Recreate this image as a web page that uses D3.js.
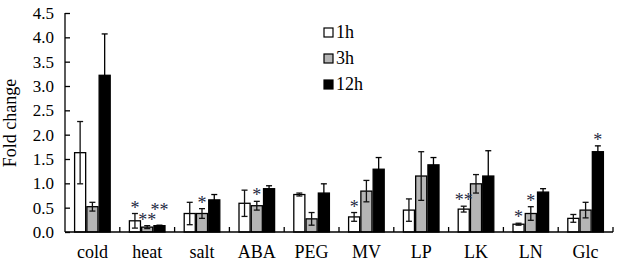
<!DOCTYPE html>
<html>
<head>
<meta charset="utf-8">
<script src="https://cdn.jsdelivr.net/npm/d3@7"></script>
<style>
  body { margin: 0; background: #fff; }
  svg { display: block; font-family: "Liberation Serif", "Times New Roman", serif; }
</style>
</head>
<body>
<svg id="chart"></svg>
<script>
// data
const categories = ['cold', 'heat', 'salt', 'ABA', 'PEG', 'MV', 'LP', 'LK', 'LN', 'Glc'];
const series = ['1h', '3h', '12h'];
const values_1h  = [1.63, 0.23, 0.38, 0.59, 0.77, 0.31, 0.45, 0.47, 0.16, 0.28];
const values_3h  = [0.52, 0.10, 0.38, 0.54, 0.27, 0.84, 1.15, 0.99, 0.38, 0.45];
const values_12h = [3.22, 0.13, 0.66, 0.89, 0.80, 1.29, 1.38, 1.15, 0.82, 1.65];
const err_1h  = [0.64, 0.15, 0.23, 0.27, 0.03, 0.09, 0.23, 0.06, 0.02, 0.08];
const err_3h  = [0.09, 0.03, 0.10, 0.09, 0.13, 0.22, 0.50, 0.19, 0.14, 0.16];
const err_12h = [0.85, 0.01, 0.11, 0.06, 0.19, 0.24, 0.15, 0.52, 0.07, 0.12];
// significance marks ('' = none)
const sig_1h  = ['', '*', '', '', '', '*', '', '**', '*', ''];
const sig_3h  = ['', '**', '*', '*', '', '', '', '', '*', ''];
const sig_12h = ['', '**', '', '', '', '', '', '', '', '*'];
const yTicks = [0, 0.5, 1, 1.5, 2, 2.5, 3, 3.5, 4, 4.5];

const W = 619, H = 263;
const margin = {top: 13, right: 6, bottom: 31, left: 65};
const innerW = W - margin.left - margin.right;
const innerH = H - margin.top - margin.bottom;

const fills = {'1h': '#ffffff', '3h': '#b5b5b5', '12h': '#000000'};
const vals = {'1h': values_1h, '3h': values_3h, '12h': values_12h};
const errs = {'1h': err_1h, '3h': err_3h, '12h': err_12h};
const sigs = {'1h': sig_1h, '3h': sig_3h, '12h': sig_12h};

const svg = d3.select('#chart').attr('width', W).attr('height', H);
const g = svg.append('g').attr('transform', `translate(${margin.left},${margin.top})`);

const x0 = d3.scaleBand().domain(categories).range([0, innerW]).padding(0);
const x1 = d3.scaleBand().domain(series).range([9, x0.bandwidth() - 9]).padding(0);
const y = d3.scaleLinear().domain([0, 4.5]).range([innerH, 0]);

// bars
const rows = categories.map((c, i) => ({
  cat: c,
  items: series.map(s => ({s, v: vals[s][i], e: errs[s][i], sig: sigs[s][i]}))
}));

const grp = g.selectAll('.grp').data(rows).join('g')
  .attr('class', 'grp')
  .attr('transform', d => `translate(${x0(d.cat)},0)`);

grp.selectAll('rect').data(d => d.items).join('rect')
  .attr('x', d => x1(d.s) + 0.6)
  .attr('y', d => y(d.v))
  .attr('width', x1.bandwidth() - 1.2)
  .attr('height', d => innerH - y(d.v))
  .attr('fill', d => fills[d.s])
  .attr('stroke', '#000')
  .attr('stroke-width', 1.3);

// error bars
const cap = 3;
const eb = grp.selectAll('.eb').data(d => d.items).join('g').attr('class', 'eb')
  .attr('stroke', d => d.s === '12h' ? '#000' : '#111')
  .attr('stroke-width', 1.3);
eb.append('line')
  .attr('x1', d => x1(d.s) + x1.bandwidth() / 2).attr('x2', d => x1(d.s) + x1.bandwidth() / 2)
  .attr('y1', d => y(d.v - d.e)).attr('y2', d => y(d.v + d.e));
eb.append('line')
  .attr('x1', d => x1(d.s) + x1.bandwidth() / 2 - cap).attr('x2', d => x1(d.s) + x1.bandwidth() / 2 + cap)
  .attr('y1', d => y(d.v + d.e)).attr('y2', d => y(d.v + d.e));
eb.append('line')
  .attr('x1', d => x1(d.s) + x1.bandwidth() / 2 - cap).attr('x2', d => x1(d.s) + x1.bandwidth() / 2 + cap)
  .attr('y1', d => y(d.v - d.e)).attr('y2', d => y(d.v - d.e));

// asterisks, lifted if they would collide with the previous bar's marks
grp.each(function(d) {
  let prev = null;
  d.items.forEach(it => {
    if (!it.sig) { prev = null; return; }
    let cy = y(it.v + it.e) - 9;
    if (prev !== null && Math.abs(prev - cy) < 10) cy = prev - 10;
    d3.select(this).append('text')
      .attr('x', x1(it.s) + x1.bandwidth() / 2)
      .attr('y', cy + 9)
      .attr('text-anchor', 'middle')
      .attr('font-size', 18)
      .attr('fill', '#1f2a42')
      .text(it.sig);
    prev = cy;
  });
});

// axes
const yAxis = d3.axisLeft(y).tickValues(yTicks).tickFormat(d3.format('.1f')).tickSize(-5).tickPadding(11);
const yg = g.append('g').call(yAxis);
yg.select('.domain').attr('d', `M0,${innerH}V0`).attr('stroke-width', 1.3);
yg.selectAll('.tick line').attr('stroke-width', 1.3);
yg.selectAll('text').attr('font-size', 17).attr('fill', '#000')
  .attr('font-family', '"Liberation Serif", serif');

const xg = g.append('g').attr('transform', `translate(0,${innerH})`);
xg.append('line').attr('x1', 0).attr('x2', innerW).attr('stroke', '#000').attr('stroke-width', 1.3);
xg.selectAll('.xt').data(categories).join('line').attr('class', 'xt')
  .attr('x1', d => x0(d) + x0.bandwidth()).attr('x2', d => x0(d) + x0.bandwidth())
  .attr('y1', 0).attr('y2', -5)
  .attr('stroke', '#000').attr('stroke-width', 1.3);
xg.selectAll('.xl').data(categories).join('text').attr('class', 'xl')
  .attr('x', d => x0(d) + x0.bandwidth() / 2)
  .attr('y', 26)
  .attr('text-anchor', 'middle')
  .attr('font-size', 18)
  .text(d => d);

// y label
svg.append('text')
  .attr('transform', `translate(16,${margin.top + 110}) rotate(-90)`)
  .attr('text-anchor', 'middle')
  .attr('font-size', 18)
  .text('Fold change');

// legend
const lg = svg.append('g').attr('transform', 'translate(324,28)');
const li = lg.selectAll('g').data(series).join('g')
  .attr('transform', (d, i) => `translate(0,${i * 26})`);
li.append('rect').attr('width', 9).attr('height', 9)
  .attr('fill', d => fills[d]).attr('stroke', '#000').attr('stroke-width', 1.2);
li.append('text').attr('x', 12).attr('y', 10).attr('font-size', 18).text(d => d);
</script>
</body>
</html>
